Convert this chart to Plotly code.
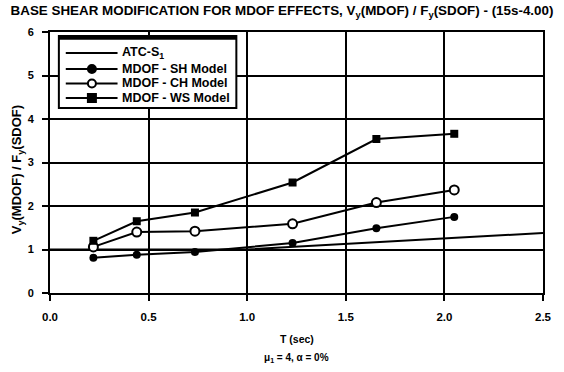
import plotly.graph_objects as go

# Period (sec) at which each MDOF model was analysed
period = [0.22, 0.44, 0.735, 1.23, 1.655, 2.05]

# Base shear ratio V_y(MDOF) / F_y(SDOF) for each model
sh_model = [0.81, 0.88, 0.94, 1.15, 1.49, 1.75]
ch_model = [1.06, 1.40, 1.42, 1.59, 2.08, 2.37]
ws_model = [1.20, 1.65, 1.85, 2.54, 3.54, 3.66]

# ATC-S1 reference ratio
atc_period = [0.0, 1.0, 2.5]
atc_ratio = [1.0, 1.0, 1.38]

x_ticks = [0.0, 0.5, 1.0, 1.5, 2.0, 2.5]
x_tick_labels = ["0.0", "0.5", "1.0", "1.5", "2.0", "2.5"]
y_ticks = [0, 1, 2, 3, 4, 5, 6]

legend_names = ["ATC-S<sub>1</sub>", "MDOF - SH Model", "MDOF - CH Model", "MDOF - WS Model"]

FAM = "Liberation Sans"
ink = "black"

def bold(size):
    return dict(family=FAM, size=size, color=ink, weight="bold")

fig = go.Figure()
fig.add_trace(go.Scatter(
    x=atc_period, y=atc_ratio, mode="lines", name=legend_names[0],
    line=dict(color=ink, width=2)))
fig.add_trace(go.Scatter(
    x=period, y=sh_model, mode="lines+markers", name=legend_names[1],
    line=dict(color=ink, width=2),
    marker=dict(symbol="circle", size=8, color=ink)))
fig.add_trace(go.Scatter(
    x=period, y=ch_model, mode="lines+markers", name=legend_names[2],
    line=dict(color=ink, width=2),
    marker=dict(symbol="circle", size=9, color="white", line=dict(color=ink, width=2))))
fig.add_trace(go.Scatter(
    x=period, y=ws_model, mode="lines+markers", name=legend_names[3],
    line=dict(color=ink, width=2),
    marker=dict(symbol="square", size=8, color=ink)))

axis_common = dict(
    showline=True, linecolor=ink, linewidth=2, mirror=True,
    showgrid=True, gridcolor=ink, gridwidth=2,
    ticks="outside", ticklen=6, tickwidth=2, tickcolor=ink,
    zeroline=False,
)

# Compact boxed key in the upper-left corner of the plot area
box_l, box_r, box_b, box_t = 0.018, 0.378, 0.709, 0.985
row_y = [0.920, 0.858, 0.803, 0.747]
line_x0, line_x1, mark_x, text_x = 0.032, 0.137, 0.085, 0.141

shapes = [
    dict(type="rect", xref="paper", yref="paper", x0=box_l, x1=box_r, y0=box_b, y1=box_t,
         line=dict(color=ink, width=2), fillcolor="white", layer="above"),
    dict(type="line", xref="paper", yref="paper", x0=box_l, x1=box_r, y0=box_t - 0.007, y1=box_t - 0.007,
         line=dict(color=ink, width=4), layer="above"),
]
annotations = []
marker_kind = [None, ("circle", ink), ("circle", "white"), ("rect", ink)]
for ry, name, kind in zip(row_y, legend_names, marker_kind):
    shapes.append(dict(type="line", xref="paper", yref="paper", x0=line_x0, x1=line_x1, y0=ry, y1=ry,
                       line=dict(color=ink, width=2), layer="above"))
    if kind is not None:
        shp, fill = kind
        half = 4
        shapes.append(dict(type=shp, xref="paper", yref="paper", xsizemode="pixel", ysizemode="pixel",
                           xanchor=mark_x, yanchor=ry, x0=-half, x1=half, y0=-half, y1=half,
                           fillcolor=fill, line=dict(color=ink, width=2), layer="above"))
    annotations.append(dict(text=name, xref="paper", yref="paper", x=text_x, y=ry,
                            xanchor="left", yanchor="middle", showarrow=False, font=bold(12.5)))

# Two-line x-axis caption
annotations.append(dict(text="T (sec)", xref="paper", yref="paper", x=0.5, y=(293 - 339) / 261,
                        xanchor="center", yanchor="middle", showarrow=False, font=bold(10.5)))
annotations.append(dict(text="\u03bc<sub>1</sub> = 4, \u03b1 = 0%", xref="paper", yref="paper",
                        x=0.5, y=(293 - 358) / 261,
                        xanchor="center", yanchor="middle", showarrow=False, font=bold(10)))

# Rotated y-axis caption
annotations.append(dict(text="V<sub>y</sub>(MDOF) / F<sub>y</sub>(SDOF)", xref="paper", yref="paper",
                        x=(17 - 50) / 496, y=(293 - 170) / 261, textangle=-90,
                        xanchor="center", yanchor="middle", showarrow=False, font=bold(13)))

fig.update_layout(
    width=564, height=372,
    margin=dict(l=50, r=18, t=32, b=79),
    paper_bgcolor="white", plot_bgcolor="white",
    font=dict(family=FAM, color=ink),
    showlegend=False,
    title=dict(
        text="BASE SHEAR MODIFICATION FOR MDOF EFFECTS, V<sub>y</sub>(MDOF) / F<sub>y</sub>(SDOF) - (15s-4.00)",
        x=0.5, xref="container", xanchor="center", y=0.985, yanchor="top",
        font=bold(13.4)),
    xaxis=dict(axis_common, range=[0, 2.5], tickvals=x_ticks, ticktext=x_tick_labels,
               tickfont=bold(11.5), ticklabelstandoff=6),
    yaxis=dict(axis_common, range=[0, 6], tickvals=y_ticks,
               tickfont=bold(11), ticklabelstandoff=6),
    shapes=shapes,
    annotations=annotations,
)

fig.write_html("out.html")
